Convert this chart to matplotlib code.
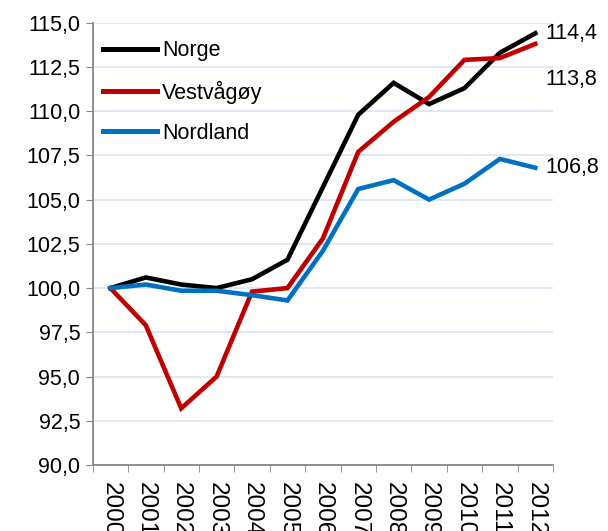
import matplotlib.pyplot as plt
import numpy as np

plt.rcParams["font.family"] = ["Liberation Sans", "DejaVu Sans"]

years = [str(y) for y in range(2000, 2013)]
norge      = [100.0, 100.6, 100.2, 100.0, 100.5, 101.6, 105.7, 109.8, 111.6, 110.4, 111.3, 113.3, 114.4]
vestvagoy  = [100.0, 97.9, 93.2, 95.0, 99.8, 100.0, 102.8, 107.7, 109.4, 110.8, 112.9, 113.0, 113.8]
nordland   = [100.0, 100.2, 99.85, 99.85, 99.6, 99.3, 102.1, 105.6, 106.1, 105.0, 105.9, 107.3, 106.8]

series = [("Norge", norge, "#000000"),
          ("Vestvågøy", vestvagoy, "#C00000"),
          ("Nordland", nordland, "#0070C0")]

W, H = 608, 531
fig = plt.figure(figsize=(W / 100, H / 100), dpi=100)
ax = fig.add_axes([92.7 / W, 1 - 465 / H, (553 - 92.7) / W, (465 - 22.7) / H])

x = np.arange(len(years))
for name, vals, col in series:
    ax.plot(x, vals, color=col, lw=3.3, label=name, solid_joinstyle="miter")

ax.set_xlim(-0.5, len(years) - 0.5)
ax.set_ylim(90, 115)
yt = np.arange(90, 115.1, 2.5)
ax.set_yticks(yt)
ax.set_yticklabels([f"{v:.1f}".replace(".", ",") for v in yt], fontsize=15.5)
ax.set_xticks(x)
ax.set_xticklabels(years, rotation=-90, fontsize=17.5, va="top")
ax.set_xticks(np.arange(-0.5, len(years)), minor=True)
ax.tick_params(axis="x", which="major", length=0, pad=12)
ax.tick_params(axis="x", which="minor", length=5, color="#868686", direction="out")
ax.tick_params(axis="y", length=5, color="#868686", pad=4)

ax.grid(axis="y", color="#DCE6F2", lw=1.3)
ax.set_axisbelow(True)
for s in ["top", "right"]:
    ax.spines[s].set_visible(False)
for s in ["left", "bottom"]:
    ax.spines[s].set_color("#868686")
    ax.spines[s].set_linewidth(1.3)

leg = ax.legend(loc="upper left", bbox_to_anchor=(0.0, 0.984), frameon=False,
                fontsize=15.5, handlelength=2.5, handletextpad=0.23,
                labelspacing=0.9, borderaxespad=0.48, borderpad=0.0)
for ln in leg.get_lines():
    ln.set_linewidth(3.6)

# end labels
offsets = [0, -36, 0]
for (name, vals, col), dy in zip(series, offsets):
    ax.annotate(f"{vals[-1]:.1f}".replace(".", ","), xy=(x[-1], vals[-1]),
                xytext=(7, dy * 0.72), textcoords="offset points",
                fontsize=15.5, va="center", ha="left", annotation_clip=False)

fig.savefig("out.png", dpi=100)
